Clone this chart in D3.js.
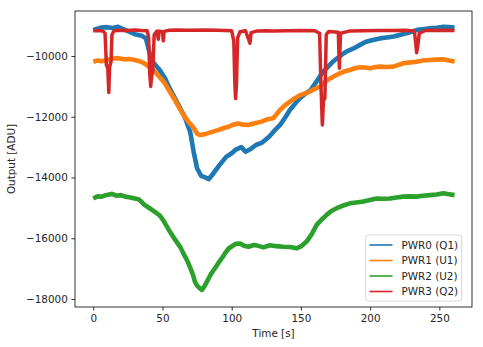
<!DOCTYPE html>
<html><head><meta charset="utf-8">
<script src="https://cdn.jsdelivr.net/npm/d3@7"></script>
<style>body{margin:0;background:#fff}svg{display:block}text{font-family:"DejaVu Sans",sans-serif}</style>
</head><body><svg id="c" width="483" height="347"></svg>
<script>
const seriesNames = ["PWR0 (Q1)", "PWR1 (U1)", "PWR2 (U2)", "PWR3 (Q2)"];
const colors = ["#1f77b4", "#ff7f0e", "#2ca02c", "#d62728"];
const xTicks = [0, 50, 100, 150, 200, 250];
const yTicks = [-18000, -16000, -14000, -12000, -10000];

const t0 = [0,3,6,10,14,18,22,26,30,35,38,42,45,48,52,55,58,62,66,70,72.5,75,78,80,83.5,87,91,96,100,103,107,110,114,117.5,122,127,131,135,139,142,146,149,153,157,161,164,166,170,173,177,181,184,188,192,197,202,207,212,217,222,226,230,234,238,243,248,253,257,261];
const v0 = [-9150,-9100,-9060,-9050,-9080,-9040,-9120,-9200,-9280,-9330,-9420,-10130,-10300,-10460,-10750,-11050,-11300,-11650,-12000,-12500,-13150,-13700,-13950,-13980,-14050,-13850,-13600,-13320,-13200,-13080,-13000,-13150,-13050,-12930,-12850,-12660,-12450,-12270,-12000,-11780,-11560,-11400,-11250,-11120,-10860,-10650,-10520,-10330,-10190,-10050,-9910,-9830,-9750,-9650,-9530,-9470,-9420,-9390,-9360,-9300,-9250,-9200,-9140,-9120,-9090,-9070,-9040,-9050,-9060];

const t1 = [0,3,6,10,14,18,22,26,30,34,37,41,44.5,48,51.7,55,59,62,66,69,72,75,77,80,83,87,90,94,97.5,101,104.7,108,112,116,121.6,126,130,134.8,138,142,146,149.4,153,156.6,160,163.8,167,171,175,178,182,185.5,189,192.7,196,200,204,207,212,216.7,220,224,229,233.5,238,243,248,252.7,257,261];
const v1 = [-10190,-10150,-10170,-10130,-10080,-10070,-10110,-10100,-10130,-10180,-10240,-10380,-10520,-10700,-10900,-11150,-11450,-11700,-12000,-12180,-12330,-12550,-12600,-12580,-12540,-12480,-12440,-12380,-12330,-12260,-12220,-12260,-12270,-12220,-12160,-12080,-12050,-11780,-11640,-11500,-11380,-11290,-11230,-11170,-11080,-11010,-10870,-10740,-10640,-10570,-10500,-10460,-10400,-10370,-10380,-10400,-10360,-10350,-10360,-10350,-10300,-10240,-10210,-10190,-10150,-10130,-10120,-10110,-10150,-10180];

const t2 = [0,3,6,9,13.3,17,20,23,26,30,33,37,41,44.5,48,50.5,53,55.3,58,60.1,63,65,68,69.8,72,73.4,75,77,78.5,80.6,83,85.4,88,90.3,93,95.1,98,100,103,106,109,112,116,119.2,123,127.7,132,137.3,142,146.9,150,154.1,158,161.4,165,168.6,172,175.8,180,185.5,190,195.1,200,204.7,210,214.4,219,224,229,233.6,238,243.3,248,252.9,257,261];
const v2 = [-14690,-14620,-14630,-14580,-14540,-14600,-14580,-14630,-14650,-14690,-14720,-14900,-15020,-15130,-15250,-15400,-15600,-15780,-15970,-16110,-16300,-16490,-16750,-16940,-17200,-17430,-17560,-17650,-17700,-17560,-17350,-17150,-16980,-16820,-16650,-16500,-16330,-16270,-16180,-16170,-16250,-16280,-16220,-16250,-16300,-16230,-16260,-16280,-16290,-16330,-16270,-16110,-15850,-15560,-15380,-15230,-15100,-15010,-14930,-14850,-14820,-14790,-14740,-14690,-14700,-14690,-14660,-14630,-14620,-14630,-14600,-14580,-14560,-14520,-14550,-14580];

const t3 = [0,4,7,8.5,9.5,10.5,11.2,11.8,12.8,13.5,15,20,25,30,35,39,40,40.8,41.5,42.2,43,44,46,47,47.6,50,50.6,51.2,55,60,70,80,90,100,101.5,102.2,102.8,103.5,104.3,106,110,113.2,114,118,125,130,140,150,160,163.5,164.5,165.5,166.3,167.3,168.3,170,177,177.8,178.6,185,195,205,215,225,232,233,233.6,234.5,235.5,240,250,261];
const v3 = [-9170,-9160,-9180,-9250,-10300,-10400,-11200,-10350,-10200,-9300,-9170,-9150,-9160,-9140,-9160,-9170,-9400,-10600,-11000,-10650,-10500,-9300,-9180,-9450,-9180,-9200,-9500,-9190,-9150,-9140,-9150,-9140,-9150,-9170,-9500,-10800,-11400,-10850,-9400,-9200,-9170,-9580,-9230,-9180,-9170,-9180,-9170,-9160,-9170,-9250,-11000,-12270,-11450,-11400,-9300,-9190,-9220,-10400,-9250,-9180,-9170,-9160,-9160,-9150,-9180,-9600,-9890,-9650,-9250,-9160,-9150,-9160];

const times = [t0, t1, t2, t3];
const values = [v0, v1, v2, v3];

const m = {left: 75, top: 11, right: 472, bottom: 307};
const svg = d3.select("#c");
const x = d3.scaleLinear().domain([-13.2, 273.6]).range([m.left, m.right]);
const y = d3.scaleLinear().domain([-18263, -8518]).range([m.bottom, m.top]);

svg.append("defs").append("clipPath").attr("id", "cp")
  .append("rect").attr("x", m.left).attr("y", m.top).attr("width", m.right - m.left).attr("height", m.bottom - m.top);

const line = d3.line().x(d => x(d[0])).y(d => y(d[1]));
const g = svg.append("g").attr("clip-path", "url(#cp)");
times.forEach((ts, i) => {
  const data = ts.map((t, j) => [t, values[i][j]]);
  g.append("path").datum(data).attr("d", line)
    .attr("fill", "none").attr("stroke", colors[i])
    .attr("stroke-width", i === 3 ? 3.5 : 4.6).attr("stroke-linejoin", "round").attr("stroke-linecap", "butt");
});

const fmt = d3.format("d");
const fs = "10.4px";
const xa = svg.append("g").attr("transform", `translate(0,${m.bottom})`)
  .call(d3.axisBottom(x).tickValues(xTicks).tickSize(3.6).tickPadding(3.6).tickFormat(fmt));
const ya = svg.append("g").attr("transform", `translate(${m.left},0)`)
  .call(d3.axisLeft(y).tickValues(yTicks).tickSize(3.6).tickPadding(3.6).tickFormat(fmt));
[xa, ya].forEach(a => {
  a.select(".domain").remove();
  a.selectAll("line").attr("stroke", "#000").attr("stroke-width", 0.8);
  a.selectAll("text").attr("fill", "#262626").style("font-size", fs).style("font-family", "DejaVu Sans");
});

svg.append("rect").attr("x", m.left).attr("y", m.top).attr("width", m.right - m.left).attr("height", m.bottom - m.top)
  .attr("fill", "none").attr("stroke", "#000").attr("stroke-width", 0.8);

svg.append("text").attr("x", (m.left + m.right) / 2).attr("y", 337).attr("text-anchor", "middle")
  .style("font-size", fs).attr("fill", "#262626").text("Time [s]");
svg.append("text").attr("transform", `translate(15,${(m.top + m.bottom) / 2}) rotate(-90)`).attr("text-anchor", "middle")
  .style("font-size", fs).attr("fill", "#262626").text("Output [ADU]");

const lg = svg.append("g");
lg.append("rect").attr("x", 365.7).attr("y", 235).attr("width", 96).attr("height", 66).attr("rx", 2.5)
  .attr("fill", "#fff").attr("fill-opacity", 0.8).attr("stroke", "#ccc").attr("stroke-width", 0.8);
const rowY = [245, 260.5, 276, 291.5];
seriesNames.forEach((n, i) => {
  lg.append("line").attr("x1", 369.5).attr("x2", 392.5).attr("y1", rowY[i]).attr("y2", rowY[i])
    .attr("stroke", colors[i]).attr("stroke-width", 1.6);
  lg.append("text").attr("x", 401.5).attr("y", rowY[i]).attr("dy", "0.36em")
    .style("font-size", fs).attr("fill", "#262626").text(n);
});
</script></body></html>
